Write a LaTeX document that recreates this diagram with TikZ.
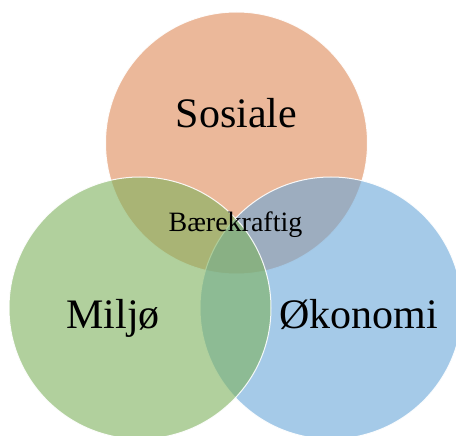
\documentclass[tikz,border=0pt]{standalone}
\usepackage{fontspec}
\setmainfont{Liberation Serif}
\definecolor{sosC}{RGB}{222,138,88}
\definecolor{milC}{RGB}{125,178,93}
\definecolor{okoC}{RGB}{105,167,217}
\tikzset{
  venn/.style={draw=white, line width=1pt, fill opacity=0.6, draw opacity=0.9},
  bigtxt/.style={font=\fontsize{42}{48}\selectfont, text=black, inner sep=0pt, anchor=base},
  midtxt/.style={font=\fontsize{28}{32}\selectfont, text=black, inner sep=0pt, anchor=base}
}
\begin{document}
\begin{tikzpicture}[x=1pt,y=-1pt]
\useasboundingbox (0,0) rectangle (456,436);
\fill[white] (0,0) rectangle (456,436);
\coordinate (cs) at (236.5,143);
\coordinate (co) at (331,308);
\coordinate (cm) at (140,308);
\path[venn, fill=sosC] (cs) circle[radius=131];
\path[venn, fill=okoC] (co) circle[radius=131];
\path[venn, fill=milC] (cm) circle[radius=131];
\node[bigtxt] (sos) at (236.5,128) {Sosiale};
\node[bigtxt] (mil) at (113,328) {Miljø};
\node[bigtxt] (oko) at (358.5,328) {Økonomi};
\node[midtxt] (bae) at (235.5,232) {Bærekraftig};
\end{tikzpicture}
\end{document}
